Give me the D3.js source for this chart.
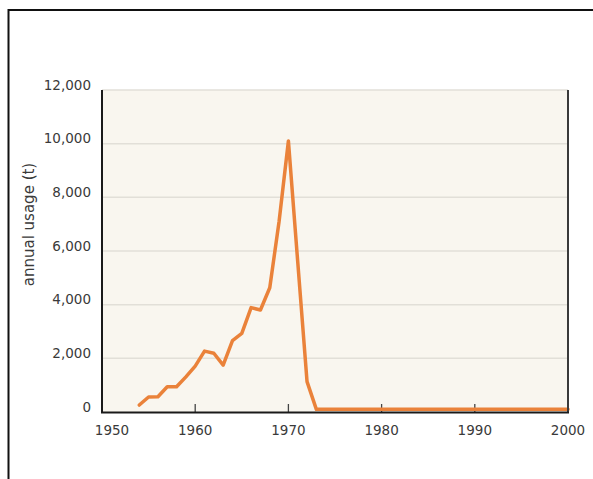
<!DOCTYPE html>
<html>
<head>
<meta charset="utf-8">
<script src="https://cdn.jsdelivr.net/npm/d3@7"></script>
<style>
  body { margin: 0; background: #fff; }
  svg { display: block; }
  text { font-family: "DejaVu Sans", sans-serif; fill: #3a3a3a; }
</style>
</head>
<body>
<svg id="chart" width="593" height="479"></svg>
<script>
// annual usage (tonnes) per year
const years = [1954, 1955, 1956, 1957, 1958, 1959, 1960, 1961, 1962, 1963,
    1964, 1965, 1966, 1967, 1968, 1969, 1970, 1971, 1972, 1973,
    1974, 1975, 1976, 1977, 1978, 1979, 1980, 1981, 1982, 1983,
    1984, 1985, 1986, 1987, 1988, 1989, 1990, 1991, 1992, 1993,
    1994, 1995, 1996, 1997, 1998, 1999, 2000];
const usage = [260, 560, 570, 940, 940, 1310, 1710, 2270, 2190, 1750,
    2660, 2930, 3890, 3800, 4630, 7100, 10100, 5600, 1130, 100,
    100, 100, 100, 100, 100, 100, 100, 100, 100, 100,
    100, 100, 100, 100, 100, 100, 100, 100, 100, 100,
    100, 100, 100, 100, 100, 100, 100];
const xTicks = [1950, 1960, 1970, 1980, 1990, 2000];
const yTicks = [0, 2000, 4000, 6000, 8000, 10000, 12000];

let svg = d3.select("#chart");

// outer frame (left + top edges only)
svg.append("path")
    .attr("d", "M 8.5 479 L 8.5 10 L 593 10")
    .attr("fill", "none")
    .attr("stroke", "#111")
    .attr("stroke-width", 2);

let plotLeft = 102, plotRight = 568, plotTop = 90, plotBottom = 412;

let x = d3.scaleLinear().domain([1950, 2000]).range([plotLeft, plotRight]);
let y = d3.scaleLinear().domain([0, 12000]).range([plotBottom, plotTop]);

// plot background
svg.append("rect")
    .attr("x", plotLeft).attr("y", plotTop)
    .attr("width", plotRight - plotLeft).attr("height", plotBottom - plotTop)
    .attr("fill", "#f9f6ef");

// gridlines
svg.append("g").selectAll("line")
    .data(yTicks.filter(d => d > 0))
    .enter().append("line")
    .attr("x1", plotLeft).attr("x2", plotRight)
    .attr("y1", d => y(d)).attr("y2", d => y(d))
    .attr("stroke", "#e2dfd8")
    .attr("stroke-width", 1.5);

// y labels
svg.append("g").selectAll("text")
    .data(yTicks)
    .enter().append("text")
    .attr("x", 91)
    .attr("y", d => y(d) - 0.5)
    .attr("text-anchor", "end")
    .style("font-size", "13.5px")
    .text(d => d3.format(",")(d));

// x tick marks (inside)
svg.append("g").selectAll("line")
    .data(xTicks.slice(1, -1))
    .enter().append("line")
    .attr("x1", d => x(d)).attr("x2", d => x(d))
    .attr("y1", plotBottom - 8).attr("y2", plotBottom)
    .attr("stroke", "#444")
    .attr("stroke-width", 1.3);

// x labels
svg.append("g").selectAll("text")
    .data(xTicks)
    .enter().append("text")
    .attr("x", d => x(d) + (d === 1950 ? 10 : 0))
    .attr("y", 435)
    .attr("text-anchor", "middle")
    .style("font-size", "13.5px")
    .text(d => d);

// axis title
svg.append("text")
    .attr("transform", "translate(34,224.5) rotate(-90)")
    .attr("text-anchor", "middle")
    .style("font-size", "15px")
    .text("annual usage (t)");

// series line
let line = d3.line()
    .x((d, i) => x(years[i]))
    .y(d => y(d));

svg.append("path")
    .datum(usage)
    .attr("d", line)
    .attr("fill", "none")
    .attr("stroke", "#ea823a")
    .attr("stroke-width", 3.5)
    .attr("stroke-linejoin", "round")
    .attr("stroke-linecap", "round");

// axis lines
svg.append("line")
    .attr("x1", plotLeft).attr("x2", plotLeft)
    .attr("y1", plotTop).attr("y2", plotBottom + 1)
    .attr("stroke", "#1a1a1a").attr("stroke-width", 2);
svg.append("line")
    .attr("x1", plotRight).attr("x2", plotRight)
    .attr("y1", plotTop).attr("y2", plotBottom + 1)
    .attr("stroke", "#3a3a3a").attr("stroke-width", 2);
svg.append("line")
    .attr("x1", plotLeft - 1).attr("x2", plotRight + 1)
    .attr("y1", plotBottom + 0.5).attr("y2", plotBottom + 0.5)
    .attr("stroke", "#1a1a1a").attr("stroke-width", 2);
</script>
</body>
</html>
